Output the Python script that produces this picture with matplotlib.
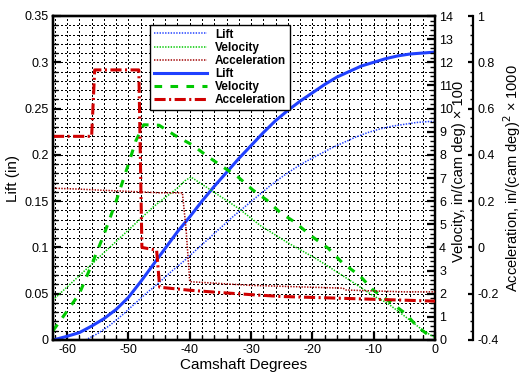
import matplotlib
matplotlib.use("Agg")
import matplotlib.pyplot as plt
from matplotlib.ticker import MultipleLocator, FuncFormatter

plt.rcParams["font.family"] = ["Liberation Sans", "DejaVu Sans"]
plt.rcParams["axes.unicode_minus"] = False
plt.rcParams["lines.scale_dashes"] = False

# lift (in) vs camshaft degrees
lift_deg = [-62.3, -60, -58, -56, -54, -52, -50, -48, -46, -44, -42, -40, -38, -36, -34,
            -32, -30, -28, -26, -24, -22, -20, -18, -16, -14, -12, -10, -8, -6, -4, -2, 0]
lift = [0.000, 0.004, 0.008, 0.015, 0.023, 0.033, 0.046, 0.063, 0.081, 0.099, 0.117, 0.133,
        0.150, 0.166, 0.181, 0.196, 0.210, 0.224, 0.237, 0.248, 0.258, 0.267, 0.276, 0.284,
        0.290, 0.296, 0.300, 0.304, 0.307, 0.309, 0.310, 0.311]

lift2_deg = [-57, -55, -53, -51, -49, -47, -45, -43, -41, -39, -37, -35, -33, -31, -29,
             -27, -25, -23, -21, -19, -17, -15, -13, -11, -9, -7, -5, -3, -1, 0]
lift2 = [0.000, 0.007, 0.016, 0.027, 0.039, 0.051, 0.062, 0.074, 0.085, 0.097, 0.109, 0.121,
         0.133, 0.144, 0.155, 0.166, 0.176, 0.185, 0.193, 0.200, 0.207, 0.213, 0.219, 0.224,
         0.228, 0.231, 0.233, 0.235, 0.236, 0.236]

# velocity, in/(cam deg) x 100
vel_deg = [-62.3, -60, -58, -56, -54, -52, -50, -48.8, -47.5, -45, -42.4, -39.6, -37, -34.6,
           -32.1, -29.7, -27.4, -25.3, -22.8, -20.3, -17.4, -15.2, -12.2, -10.1, -7.7, -4.9,
           -2.8, 0]
vel = [0.4, 1.25, 2.0, 3.25, 4.55, 6.0, 7.6, 8.6, 9.3, 9.28, 8.84, 8.43, 7.92, 7.48, 7.04,
       6.48, 6.04, 5.52, 5.08, 4.52, 3.96, 3.36, 2.76, 2.16, 1.72, 1.16, 0.56, 0.0]

vel2_deg = [-62.3, -58, -54, -50, -46, -44, -42, -40.8, -39.8, -38, -36, -32, -28.5, -24,
            -19.3, -14, -10, -7.8, -4, -2, 0]
vel2 = [1.73, 2.78, 3.77, 4.75, 5.74, 6.16, 6.56, 6.88, 7.04, 6.73, 6.38, 5.68, 4.95, 4.2,
        3.5, 2.6, 1.9, 1.6, 0.84, 0.42, 0.1]

# acceleration, in/(cam deg)^2 x 1000
acc_deg = [-62.3, -56.0, -55.5, -48.3, -47.8, -45.4, -44.9, -40, -35, -30, -25, -20, -15,
           -10, -5, 0]
acc = [0.48, 0.48, 0.767, 0.767, 0.0, -0.012, -0.172, -0.185, -0.195, -0.204, -0.212,
       -0.216, -0.220, -0.224, -0.228, -0.232]

acc2_deg = [-62.3, -58, -55, -48, -45, -41.2, -40.6, -40.0, -35, -30, -25, -20, -15, -14.5,
            -10, -5, 0]
acc2 = [0.256, 0.252, 0.248, 0.24, 0.236, 0.236, 0.08, -0.148, -0.156, -0.164, -0.168,
        -0.172, -0.176, -0.184, -0.188, -0.192, -0.192]

blue = "#2040ff"
green = "#00c800"
red = "#d00000"
dot = (0, (1, 1))

fig = plt.figure(figsize=(5.26, 3.74), dpi=100)
ax = fig.add_axes([53 / 526, 34 / 374, 382 / 526, 324 / 374])
ax_v = ax.twinx()
ax_a = ax.twinx()
ax_a.spines["right"].set_position(("axes", (473 - 53) / 382))

ax.set_xlim(-62.3, 0)
ax.set_ylim(0, 0.35)
ax_v.set_ylim(0, 14)
ax_a.set_ylim(-0.4, 1)

ax.grid(True, which="both", color="black", linestyle=(0, (0.75, 1.45)), linewidth=0.75,
        antialiased=False)
ax.set_axisbelow(True)

h1, = ax.plot(lift2_deg, lift2, color=blue, lw=1.1, ls=dot, label="Lift")
h2, = ax_v.plot(vel2_deg, vel2, color=green, lw=1.1, ls=dot, label="Velocity")
h3, = ax_a.plot(acc2_deg, acc2, color="#a00000", lw=1.1, ls=dot, label="Acceleration")
h4, = ax.plot(lift_deg, lift, color=blue, lw=2.2, label="Lift")
h5, = ax_v.plot(vel_deg, vel, color=green, lw=2.2, ls=(0, (5.5, 6)), label="Velocity")
h6, = ax_a.plot(acc_deg, acc, color=red, lw=2.2, ls=(0, (8, 2.5, 1.5, 2.5)),
                label="Acceleration")

ax.xaxis.set_major_locator(MultipleLocator(10))
ax.xaxis.set_minor_locator(MultipleLocator(2))
ax.yaxis.set_major_locator(MultipleLocator(0.05))
ax.yaxis.set_minor_locator(MultipleLocator(0.01))
ax_v.yaxis.set_major_locator(MultipleLocator(1))
ax_v.yaxis.set_minor_locator(MultipleLocator(0.2))
ax_a.yaxis.set_major_locator(MultipleLocator(0.2))
ax_a.yaxis.set_minor_locator(MultipleLocator(0.04))

fmt = FuncFormatter(lambda v, p: "%g" % round(v, 4))
ax.xaxis.set_major_formatter(fmt)
ax.yaxis.set_major_formatter(fmt)
ax_v.yaxis.set_major_formatter(fmt)
ax_a.yaxis.set_major_formatter(fmt)

for a in (ax, ax_v, ax_a):
    for s in a.spines.values():
        s.set_linewidth(1.6)
    a.tick_params(which="major", direction="in", length=6, width=1.6, labelsize=9, pad=3)
    a.tick_params(which="minor", direction="in", length=3.5, width=1)

ax.tick_params(axis="both", which="both", top=False, right=False)
ax_a.tick_params(which="major", length=3.5)
ax_a.tick_params(which="minor", length=2.5)

ax.set_xlabel("Camshaft Degrees", fontsize=11, labelpad=1)
ax.set_ylabel("Lift (in)", fontsize=11, labelpad=3)
ax_v.set_ylabel("Velocity, in/(cam deg) \u00d7 100", fontsize=10.5)
ax_v.yaxis.set_label_coords((452 - 53) / 382, 0.52)
ax_a.set_ylabel("Acceleration, in/(cam deg)$^2$ \u00d7 1000", fontsize=10.5)
ax_a.yaxis.set_label_coords((501 - 53) / 382, 0.5)

leg = ax_a.legend(handles=[h1, h2, h3, h4, h5, h6], loc="upper left",
                  bbox_to_anchor=((150 - 53) / 382, (340 - 25) / 324), borderaxespad=0,
                  fancybox=False, framealpha=1, edgecolor="black", handlelength=4.5,
                  handletextpad=0.7, labelspacing=0.1, borderpad=0.3,
                  prop={"size": 8.5, "weight": "bold"})
leg.get_frame().set_linewidth(1)

fig.savefig("out.png", dpi=100)
